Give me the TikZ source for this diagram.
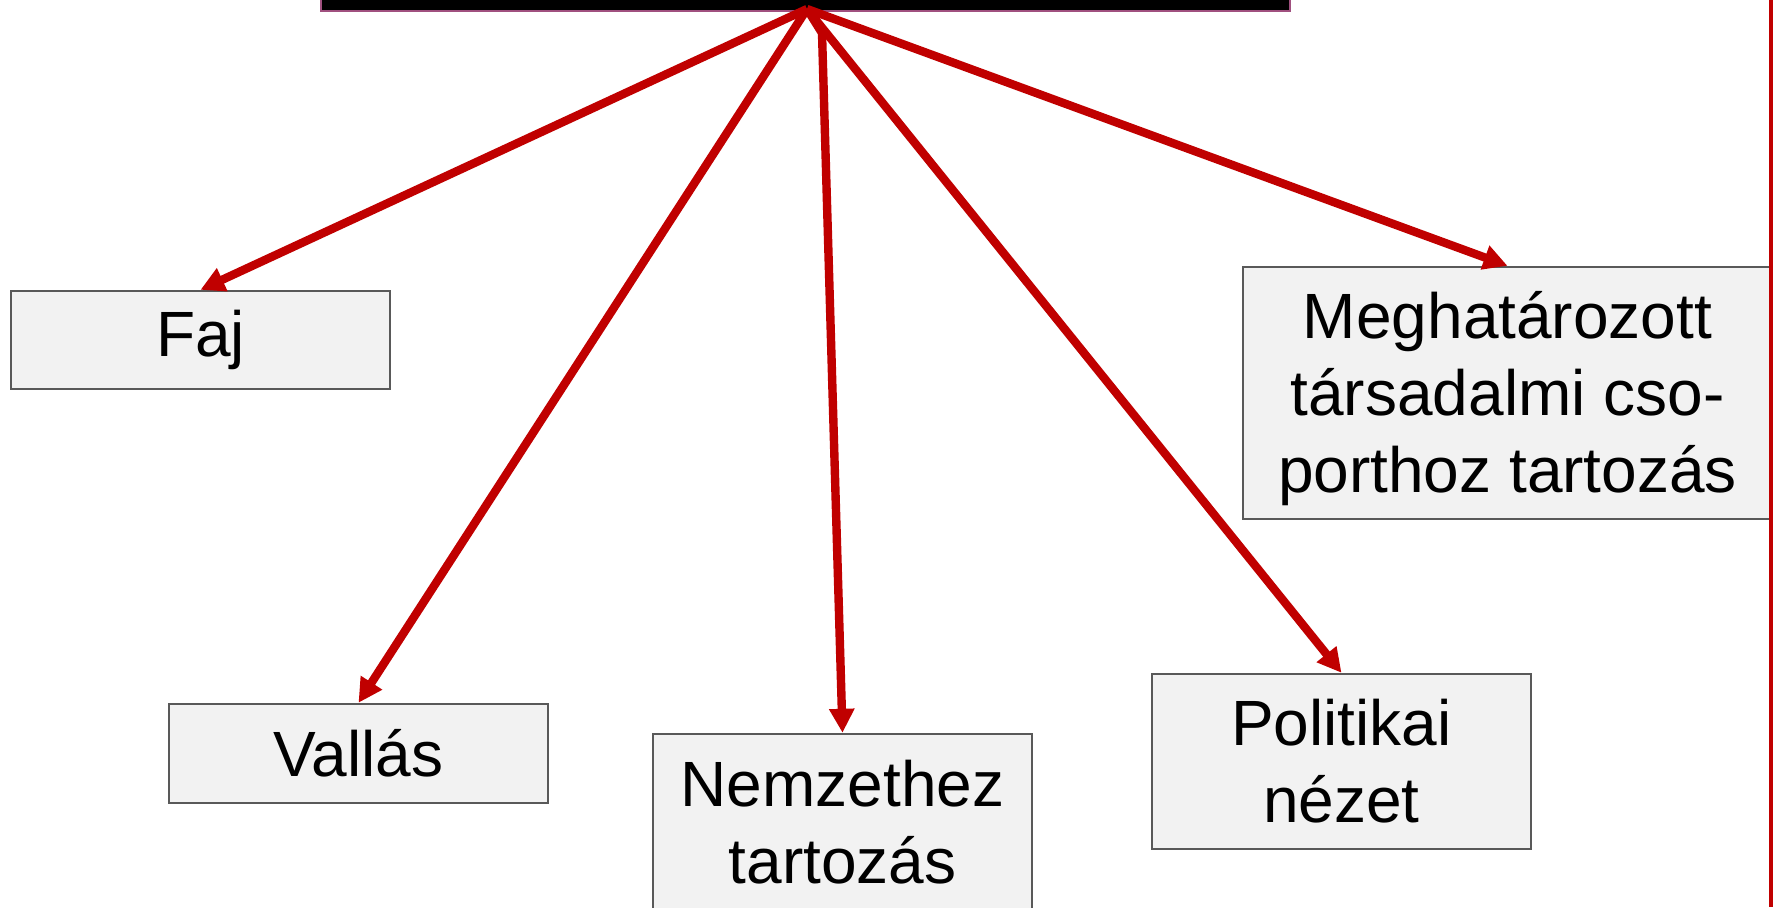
\documentclass[tikz,border=0pt]{standalone}
\usepackage{fontspec}
\setmainfont{Liberation Sans}
\usetikzlibrary{arrows.meta,positioning,calc}
\definecolor{arrowred}{HTML}{C00000}
\definecolor{boxline}{HTML}{595959}
\definecolor{boxfill}{HTML}{F2F2F2}
\definecolor{hubline}{HTML}{A0507F}

\tikzset{
  catbox/.style={rectangle,draw=boxline,fill=boxfill,line width=1.2pt,
    inner sep=0pt,align=center,font=\fontsize{32pt}{38.5pt}\selectfont},
  link/.style={draw=arrowred,line width=4.2pt,
    -{Triangle[length=12pt,width=12pt]}},
}

\begin{document}
\begin{tikzpicture}[x=0.5pt,y=-0.5pt]
          \clip (0,0) rectangle (1781,907);

            \node (hub) at (805.5,-5) [rectangle,draw=hubline,fill=black,line width=1.2pt,
              minimum width=484.5pt,minimum height=16pt]{};
            \coordinate (apex) at (807,9);
            \coordinate (bend) at (822,33);

            \node (faj) at (200.5,340) [catbox,minimum width=189.5pt,minimum height=49pt]{Faj};
            \node (vallas) at (358.5,753.5) [catbox,minimum width=189.5pt,minimum height=49.5pt]{Vallás};
            \node (nemzet) at (842.5,822) [catbox,minimum width=189.5pt,minimum height=88pt]{Nemzethez\\tartozás};
            \node (polit) at (1341.5,761.5) [catbox,minimum width=189.5pt,minimum height=87.5pt]{Politikai\\nézet};
            \node (csoport) at (1507.5,393) [catbox,minimum width=264.5pt,minimum height=126pt]{\rule{0pt}{29pt}Meghatározott\\társadalmi cso-\\porthoz tartozás};

            \draw[link] (apex) -- (faj.north);
            \draw[link] (apex) -- (vallas.north);
            \draw[link] (apex) -- (bend) -- (nemzet.north);
            \draw[link] (apex) -- (polit.north);
            \draw[link] (apex) -- (csoport.north);

            % red edge on the right
            \draw[arrowred,line width=2pt] (1771,0) -- (1771,907);

          \end{tikzpicture}
\end{document}
